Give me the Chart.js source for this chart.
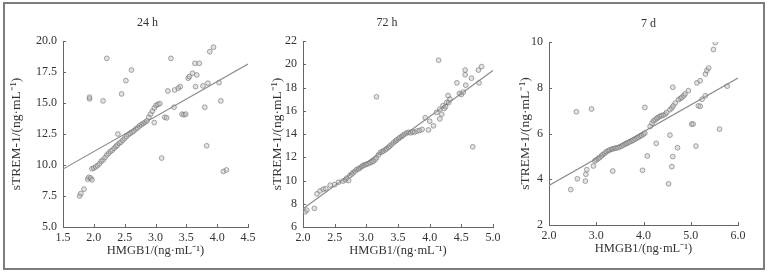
<!DOCTYPE html>
<html>
<head>
<meta charset="utf-8">
<script src="https://cdn.jsdelivr.net/npm/chart.js@4"></script>
<style>
  body{ margin:0; background:#fff; width:768px; height:276px; position:relative; overflow:hidden; }
  #frame{ position:absolute; left:3px; top:2px; width:758px; height:264px; border:2px solid #7d7d7d; }
  canvas{ position:absolute; }
</style>
</head>
<body>
<div id="frame"></div>
<canvas id="c24"></canvas>
<canvas id="c72"></canvas>
<canvas id="c7d"></canvas>
<script>
// ---- 24 h ----
const x24 = [1.77,1.79,1.84,1.90,1.92,1.95,1.97,1.93,1.93,2.15,2.21,2.45,2.52,2.61,2.39,2.98,3.25,3.10,3.15,3.18,3.30,3.43,3.46,3.49,
  3.20,3.31,3.37,3.40,3.53,3.55,3.60,3.64,3.71,3.67,3.65,3.77,3.80,3.83,3.88,3.94,4.03,4.06,3.85,4.10,4.15,
  1.97,2.00,2.03,2.06,2.09,2.12,2.15,2.18,2.21,2.24,2.27,2.30,2.33,2.36,2.38,2.41,2.44,2.47,2.50,2.53,2.56,2.59,2.62,2.65,
  2.68,2.71,2.74,2.77,2.80,2.83,2.86,2.89,2.92,2.95,2.98,3.01,3.04,3.07];
const y24 = [7.50,7.70,8.05,8.85,9.00,8.95,8.80,15.33,15.47,15.17,18.60,15.73,16.80,17.66,12.50,13.42,18.60,10.56,13.85,13.80,14.66,14.10,14.05,14.10,
  15.97,16.05,16.20,16.32,17.00,17.13,17.40,18.20,18.20,17.26,16.32,16.38,14.66,11.55,19.14,19.50,16.64,15.17,16.60,9.48,9.60,
  9.70,9.75,9.85,9.95,10.10,10.30,10.40,10.60,10.80,10.95,11.10,11.20,11.35,11.50,11.60,11.75,11.85,12.00,12.15,12.30,12.45,12.55,12.65,12.75,
  12.90,13.00,13.15,13.25,13.35,13.45,13.55,13.85,14.10,14.35,14.60,14.80,14.90,14.95];
const fitX24 = [1.5, 4.5], fitY24 = [9.67, 18.15];
const yTicks24 = [5, 20, 2.5], xTicks24 = [1.5, 4.5, 0.5];

// ---- 72 h ----
const x72 = [2.03,2.06,2.18,2.22,2.27,2.32,2.36,2.43,2.50,2.56,
  2.63,2.67,2.69,2.72,2.74,2.77,2.79,2.82,2.85,2.88,2.90,2.93,2.95,2.98,3.00,3.03,3.06,3.09,3.11,3.14,3.16,3.19,3.22,3.25,3.27,3.30,
  3.32,3.35,3.37,3.40,3.43,3.46,3.48,3.51,3.53,3.56,3.58,3.61,3.64,3.67,3.70,3.73,3.76,3.80,3.84,3.88,
  3.93,4.00,3.98,4.06,4.11,4.16,4.19,4.16,4.21,4.23,4.25,4.27,4.30,4.32,4.29,
  4.14,4.43,4.47,4.50,4.53,4.56,4.56,4.57,4.66,4.68,4.77,4.82,4.78,3.16];
const y72 = [7.30,7.45,7.60,8.85,9.10,9.25,9.30,9.60,9.65,9.85,
  9.95,10.05,10.20,10.00,10.43,10.55,10.67,10.80,10.95,11.00,11.10,11.20,11.30,11.35,11.40,11.45,11.53,11.60,11.67,11.80,11.96,12.20,12.40,12.48,12.54,12.65,
  12.74,12.85,12.97,13.10,13.26,13.38,13.49,13.60,13.70,13.80,13.90,14.00,14.10,14.15,14.10,14.20,14.15,14.25,14.30,14.40,
  15.40,15.10,14.35,14.70,15.86,16.14,15.70,15.30,16.43,16.20,16.35,16.72,16.70,17.00,17.30,
  20.35,18.40,17.50,17.40,17.60,19.50,19.10,18.20,18.80,12.90,19.50,19.80,18.40,17.20];
const fitX72 = [2.0, 5.0], fitY72 = [7.56, 19.46];
const yTicks72 = [6, 22, 2], xTicks72 = [2.0, 5.0, 0.5];

// ---- 7 d ----
const x7d = [2.46,2.58,2.60,2.77,2.78,2.80,2.90,2.94,
  2.97,3.00,3.04,3.07,3.11,3.14,3.18,3.21,3.25,3.28,3.32,3.35,3.39,3.42,3.46,3.50,3.54,3.57,3.61,3.64,3.68,3.71,3.75,3.78,3.82,3.86,3.89,3.93,3.96,4.00,4.03,
  3.35,3.98,4.03,4.08,
  4.14,4.18,4.21,4.25,4.28,4.31,4.35,4.38,4.42,4.46,4.49,4.56,4.60,4.63,4.67,4.74,4.78,4.81,4.85,4.88,4.95,
  4.27,4.56,4.53,4.62,4.60,4.62,4.72,5.02,5.05,5.11,5.16,5.20,5.24,5.31,5.13,5.20,5.31,5.34,5.38,5.48,5.52,5.61,5.77];
const y7d = [3.55,6.95,4.02,3.92,4.22,4.42,7.07,4.58,
  4.80,4.85,4.90,4.95,5.02,5.08,5.13,5.20,5.24,5.28,5.31,5.33,5.35,5.37,5.38,5.42,5.45,5.50,5.53,5.57,5.60,5.64,5.67,5.71,5.75,5.80,5.84,5.88,5.92,5.97,6.02,
  4.36,4.39,7.14,5.02,
  6.31,6.45,6.55,6.60,6.66,6.70,6.75,6.78,6.80,6.85,6.92,7.04,7.12,7.21,7.33,7.48,7.53,7.58,7.65,7.73,7.87,
  5.57,5.93,3.80,8.02,4.55,4.99,5.38,6.41,6.41,5.45,7.21,7.19,7.50,7.65,8.21,8.31,8.60,8.75,8.86,9.67,9.97,6.19,8.07];
const fitX7d = [2.0, 6.0], fitY7d = [3.73, 8.42];
const yTicks7d = [2, 10, 2], xTicks7d = [2.0, 6.0, 1.0];

const FONT = "'Liberation Serif', 'Times New Roman', serif";
const INK = '#333';
const pts = (xs, ys) => xs.map((x, i) => ({x, y: ys[i]}));

// tick marks pointing into the plot
const inTicks = {
  id: 'inTicks',
  afterDraw(chart){
    const {ctx, scales:{x, y}} = chart;
    ctx.save(); ctx.strokeStyle = '#666'; ctx.lineWidth = 1;
    x.ticks.forEach(t => { const p = Math.round(x.getPixelForValue(t.value)) + 0.5; ctx.beginPath(); ctx.moveTo(p, x.top); ctx.lineTo(p, x.top - 3); ctx.stroke(); });
    y.ticks.forEach(t => { const p = Math.round(y.getPixelForValue(t.value)) + 0.5; ctx.beginPath(); ctx.moveTo(y.right, p); ctx.lineTo(y.right + 3, p); ctx.stroke(); });
    ctx.restore();
  }
};

// panel heading, placed a bit off the plot centre like the original
const heading = {
  id: 'heading',
  afterDraw(chart, args, opts){
    const {ctx, chartArea} = chart;
    ctx.save(); ctx.fillStyle = INK; ctx.font = `12px ${FONT}`;
    ctx.textAlign = 'center'; ctx.textBaseline = 'middle';
    ctx.fillText(opts.text, (chartArea.left + chartArea.right) / 2 + opts.dx, 18);
    ctx.restore();
  }
};

function panel(id, box, title, xs, ys, fx, fy, xt, yt, xDec, yDec){
  const cv = document.getElementById(id);
  cv.width = box.w; cv.height = box.h;
  cv.style.left = box.l + 'px'; cv.style.top = box.t + 'px';
  return new Chart(cv, {
    type: 'scatter',
    data: { datasets: [
      { data: pts(xs, ys), pointRadius: 2.4, pointBackgroundColor: 'rgba(185,185,185,0.4)', pointBorderColor: 'rgba(115,115,115,0.7)', pointBorderWidth: 0.9 },
      { type: 'line', data: pts(fx, fy), borderColor: '#8c8c8c', borderWidth: 1.2, pointRadius: 0, fill: false }
    ]},
    options: {
      responsive: false, animation: false,
      layout: { padding: { top: 36, right: box.pr, bottom: 0, left: 0 } },
      plugins: {
        legend: { display: false }, tooltip: { enabled: false },
        heading: { text: title, dx: box.dx }
      },
      scales: {
        x: {
          type: 'linear', min: xt[0], max: xt[1],
          afterFit: s => { s.height = 40; },
          grid: { display: false, drawTicks: false },
          border: { color: '#666', width: 1 },
          ticks: { stepSize: xt[2], padding: 4, color: INK, font: { family: FONT, size: 12 }, callback: v => v.toFixed(xDec), maxRotation: 0 },
          title: { display: true, text: 'HMGB1/(ng·mL⁻¹)', color: INK, font: { family: FONT, size: 12.5 }, padding: { top: 0, bottom: 9 } }
        },
        y: {
          type: 'linear', min: yt[0], max: yt[1],
          afterFit: s => { s.width = box.yw; },
          grid: { display: false, drawTicks: false },
          border: { color: '#666', width: 1 },
          ticks: { stepSize: yt[2], padding: 6, color: INK, font: { family: FONT, size: 12 }, callback: v => v.toFixed(yDec) },
          title: { display: true, text: 'sTREM-1/(ng·mL⁻¹)', color: INK, font: { family: FONT, size: 13.5 }, padding: { top: 3, bottom: 0 } }
        }
      }
    },
    plugins: [inTicks, heading]
  });
}

panel('c24', {l:5, t:5, w:256, h:262, yw:58, pr:13, dx:-8}, '24 h', x24, y24, fitX24, fitY24, xTicks24, yTicks24, 1, 1);
panel('c72', {l:266, t:5, w:242, h:262, yw:37, pr:15, dx:-11}, '72 h', x72, y72, fitX72, fitY72, xTicks72, yTicks72, 1, 0);
panel('c7d', {l:514, t:6, w:240, h:259, yw:35, pr:16, dx:5}, '7 d', x7d, y7d, fitX7d, fitY7d, xTicks7d, yTicks7d, 1, 0);
</script>
</body>
</html>
